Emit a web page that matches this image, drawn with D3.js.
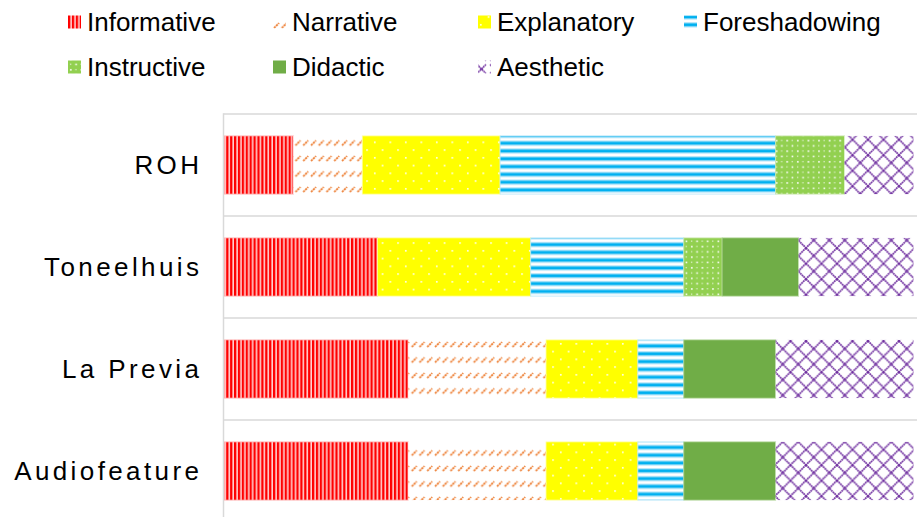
<!DOCTYPE html>
<html><head><meta charset="utf-8">
<script src="https://cdn.jsdelivr.net/npm/d3@7"></script>
<style>body{margin:0;background:#fff}svg{display:block}</style>
</head><body>
<script>
const categories = ["ROH", "Toneelhuis", "La Previa", "Audiofeature"];
const seriesNames = ["Informative", "Narrative", "Explanatory", "Foreshadowing", "Instructive", "Didactic", "Aesthetic"];
const informative   = [1, 4, 4, 4];
const narrative     = [1, 0, 3, 3];
const explanatory   = [2, 4, 2, 2];
const foreshadowing = [4, 4, 1, 1];
const instructive   = [1, 1, 0, 0];
const didactic      = [0, 2, 2, 2];
const aesthetic     = [1, 3, 3, 3];
const seriesValues = [informative, narrative, explanatory, foreshadowing, instructive, didactic, aesthetic];

const W = 917, H = 517;
const svg = d3.select("body").append("svg").attr("width", W).attr("height", H);
const defs = svg.append("defs");

function pat(id, w, h) {
  return defs.append("pattern").attr("id", id).attr("patternUnits", "userSpaceOnUse")
    .attr("width", w).attr("height", h);
}
// Informative: red vertical stripes
let p = pat("p0", 3.9, 8);
p.append("rect").attr("width", 3.9).attr("height", 8).attr("fill", "#ffd0d0");
p.append("rect").attr("width", 2.3).attr("height", 8).attr("fill", "#ff0000");
// Narrative: orange dashed diagonal
p = pat("p1", 7.75, 15.5);
p.append("rect").attr("width", 7.75).attr("height", 15.5).attr("fill", "#fff");
p.append("line").attr("x1", 1).attr("y1", 6).attr("x2", 6).attr("y2", 1)
  .attr("stroke", "#ed7d31").attr("stroke-width", 1.8).attr("stroke-dasharray", "2.2,0.7");
// Explanatory: yellow with white dots
p = pat("p2", 15.5, 15.5);
p.append("rect").attr("width", 15.5).attr("height", 15.5).attr("fill", "#ffff00");
p.append("rect").attr("x", 2).attr("y", 2).attr("width", 1.6).attr("height", 1.6).attr("fill", "#fff");
p.append("rect").attr("x", 9.75).attr("y", 9.75).attr("width", 1.6).attr("height", 1.6).attr("fill", "#fff");
// Foreshadowing: blue horizontal stripes
p = pat("p3", 8, 7.8);
p.append("rect").attr("width", 8).attr("height", 7.8).attr("fill", "#fff");
p.append("rect").attr("y", 0.3).attr("width", 8).attr("height", 1).attr("fill", "#9bdcf6");
p.append("rect").attr("y", 1.3).attr("width", 8).attr("height", 3.2).attr("fill", "#00b0f0");
p.append("rect").attr("y", 4.5).attr("width", 8).attr("height", 0.8).attr("fill", "#9bdcf6");
// Instructive: green with white dots
p = pat("p4", 10.6, 10.6);
p.append("rect").attr("width", 10.6).attr("height", 10.6).attr("fill", "#92d050");
p.append("rect").attr("x", 2).attr("y", 2).attr("width", 1.6).attr("height", 1.6).attr("fill", "#fff");
p.append("rect").attr("x", 7.3).attr("y", 7.3).attr("width", 1.6).attr("height", 1.6).attr("fill", "#fff");
p.append("rect").attr("x", 7.3).attr("y", 2).attr("width", 1.2).attr("height", 1.2).attr("fill", "#e9f5dc");
p.append("rect").attr("x", 2).attr("y", 7.3).attr("width", 1.2).attr("height", 1.2).attr("fill", "#e9f5dc");
// Aesthetic: purple diagonal crosshatch
p = pat("p6", 15.5, 15.5);
p.append("rect").attr("width", 15.5).attr("height", 15.5).attr("fill", "#fff");
p.append("path").attr("d", "M0,0L15.5,15.5M15.5,0L0,15.5M-1,14.5L1,16.5M14.5,-1L16.5,1")
  .attr("stroke", "#7030a0").attr("stroke-width", 1.7).attr("stroke-dasharray", "1.8,0.5").attr("fill", "none");

const fills = ["url(#p0)", "url(#p1)", "url(#p2)", "url(#p3)", "url(#p4)", "#70ad47", "url(#p6)"];
const strokes = ["#ffb0b0", "none", "#ffff99", "#b8e6f8", "#c8e6a8", "#a9d18e", "none"];

// data table
const table = categories.map((c, i) => {
  const o = {category: c};
  seriesNames.forEach((s, j) => o[s] = seriesValues[j][i]);
  return o;
});
const stack = d3.stack().keys(seriesNames).offset(d3.stackOffsetExpand);
const layers = stack(table);

const x = d3.scaleLinear().domain([0, 1]).range([224.5, 913.5]);
const y = d3.scaleBand().domain(categories).range([114, 522]).paddingInner(0.43).paddingOuter(0.215);

// gridlines (category separators)
const gy = d3.range(categories.length + 1).map(i => 114 + i * y.step());
svg.append("g").selectAll("line").data(gy).join("line")
  .attr("x1", 223.5).attr("x2", W).attr("y1", d => d).attr("y2", d => d)
  .attr("stroke", "#d9d9d9").attr("stroke-width", 1.5);
svg.append("line").attr("x1", 223.5).attr("x2", 223.5).attr("y1", 113.3).attr("y2", H)
  .attr("stroke", "#d9d9d9").attr("stroke-width", 1.5);

// bars
layers.forEach((layer, j) => {
  svg.append("g").selectAll("rect").data(layer.filter(d => d[1] - d[0] > 0)).join("rect")
    .attr("x", d => x(d[0])).attr("width", d => x(d[1]) - x(d[0]))
    .attr("y", d => y(d.data.category)).attr("height", y.bandwidth())
    .attr("fill", fills[j])
    .attr("stroke", strokes[j]).attr("stroke-width", 0.8);
});

// category labels
svg.append("g").selectAll("text").data(categories).join("text")
  .attr("x", 202.4).attr("y", d => y(d) + y.bandwidth() / 2 + 9.3)
  .attr("text-anchor", "end")
  .attr("font-family", "Liberation Sans, Arial, sans-serif").attr("font-size", 26)
  .attr("letter-spacing", 3.4).attr("fill", "#000")
  .text(d => d);

// legend
const legX = [68, 273, 478, 684];
const legY = [22, 67];
// legend-specific aesthetic swatch pattern: a single X
const lp = defs.append("pattern").attr("id", "l6").attr("patternUnits", "userSpaceOnUse")
  .attr("x", legX[2]).attr("y", legY[1] - 6.5).attr("width", 13).attr("height", 13);
lp.append("rect").attr("width", 13).attr("height", 13).attr("fill", "#fff");
lp.append("path").attr("d", "M2,2L11,11M11,2L2,11").attr("stroke", "#7030a0").attr("stroke-width", 1.5)
  .attr("stroke-dasharray", "1.8,0.5");
const legFills = fills.slice(); legFills[6] = "url(#l6)";
const lg = svg.append("g").selectAll("g").data(seriesNames).join("g")
  .attr("transform", (d, i) => `translate(${legX[i % 4]},${legY[Math.floor(i / 4)]})`);
lg.append("rect").attr("x", 0).attr("y", -6.5).attr("width", 13).attr("height", 13)
  .attr("fill", (d, i) => legFills[i]);
lg.append("text").attr("x", 19).attr("y", 9.2)
  .attr("font-family", "Liberation Sans, Arial, sans-serif").attr("font-size", 26).attr("fill", "#000")
  .text(d => d);
</script>
</body></html>
